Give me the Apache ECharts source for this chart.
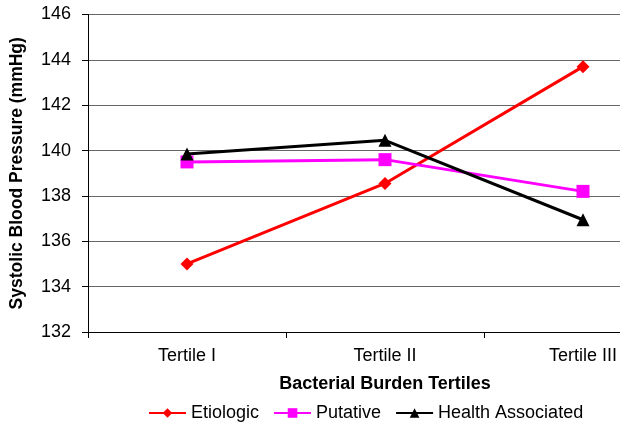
<!DOCTYPE html>
<html>
<head>
<meta charset="utf-8">
<script src="https://cdn.jsdelivr.net/npm/echarts@6/dist/echarts.min.js"></script>
<style>
  body { margin: 0; background: #fff; }
  .clip { width: 620px; height: 428px; overflow: hidden; }
  #chart { width: 700px; height: 428px; }
</style>
</head>
<body>
<div class="clip"><div id="chart"></div></div>
<script>
// data
const tertiles = ['Tertile I', 'Tertile II', 'Tertile III']
const etiologic = [135.0, 138.55, 143.7]
const putative = [139.5, 139.6, 138.2]
const healthAssociated = [139.85, 140.45, 136.95]

const font = 'Liberation Sans, Arial, sans-serif'

const chart = echarts.init(document.getElementById('chart'))

const option = {
  animation: false,
  textStyle: { fontFamily: font },
  legend: {
    left: 143,
    top: 399,
    itemWidth: 37,
    itemHeight: 12,
    itemGap: 14,
    textStyle: { fontSize: 18, color: '#000', fontFamily: font },
    data: ['Etiologic', 'Putative', 'Health Associated']
  },
  grid: {
    left: 85,
    top: 14.5,
    width: 597,
    height: 317.5
  },
  xAxis: {
    type: 'category',
    data: tertiles,
    boundaryGap: true,
    name: 'Bacterial Burden Tertiles',
    nameLocation: 'middle',
    nameGap: 43,
    nameTextStyle: { fontSize: 18, fontWeight: 'bold', color: '#000', fontFamily: font },
    axisLine: { lineStyle: { color: '#000', width: 1 } },
    axisTick: { show: true, length: 6, lineStyle: { color: '#000' } },
    axisLabel: { fontSize: 18, color: '#000', margin: 15, fontFamily: font },
    splitLine: { show: false }
  },
  yAxis: {
    type: 'value',
    min: 132,
    max: 146,
    interval: 2,
    name: 'Systolic Blood Pressure (mmHg)',
    nameLocation: 'middle',
    nameGap: 62,
    nameTextStyle: { fontSize: 17.5, fontWeight: 'bold', color: '#000', fontFamily: font },
    axisLine: { show: true, lineStyle: { color: '#000', width: 1 } },
    axisTick: { show: true, length: 6, lineStyle: { color: '#000' } },
    axisLabel: { fontSize: 18, color: '#000', margin: 17, fontFamily: font },
    splitLine: { show: true, lineStyle: { color: '#666', width: 1 } }
  },
  series: [
    {
      name: 'Etiologic',
      type: 'line',
      data: etiologic,
      symbol: 'diamond',
      symbolSize: 13,
      lineStyle: { color: '#ff0000', width: 3 },
      itemStyle: { color: '#ff0000' }
    },
    {
      name: 'Putative',
      type: 'line',
      data: putative,
      symbol: 'rect',
      symbolSize: 13,
      lineStyle: { color: '#ff00ff', width: 3 },
      itemStyle: { color: '#ff00ff' }
    },
    {
      name: 'Health Associated',
      type: 'line',
      data: healthAssociated,
      symbol: 'triangle',
      symbolSize: 13,
      lineStyle: { color: '#000', width: 3 },
      itemStyle: { color: '#000' }
    }
  ]
}

chart.setOption(option)
</script>
</body>
</html>
